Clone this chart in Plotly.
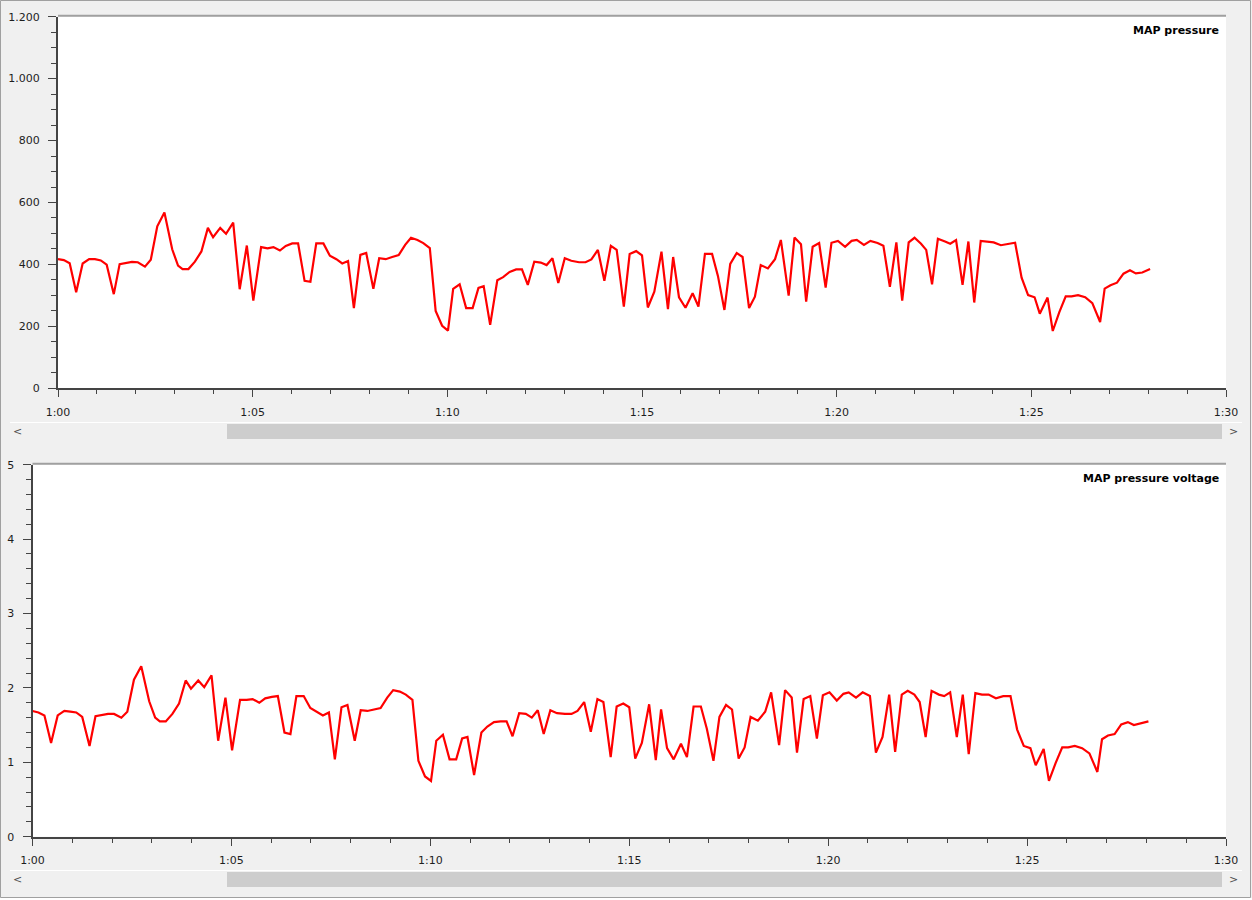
import plotly.graph_objects as go

# ---------------- data ----------------
# sample times, seconds after 1:00
t_sec = [0, 9, 18, 28, 38, 48, 57, 66, 75, 86,
         95, 105, 114, 123, 134, 143, 153, 164, 176, 185,
         192, 201, 211, 221, 231, 239, 250, 259, 270, 280,
         291, 301, 313, 323, 332, 342, 351, 361, 370, 380,
         389, 398, 409, 419, 429, 438, 447, 456, 466, 475,
         486, 495, 505, 515, 525, 535, 544, 554, 563, 573,
         582, 592, 601, 609, 619, 629, 639, 648, 656, 666,
         677, 686, 696, 706, 715, 724, 734, 744, 753, 762,
         771, 781, 791, 803, 813, 822, 832, 842, 852, 861,
         872, 881, 891, 900, 909, 919, 930, 940, 948, 957,
         967, 978, 987, 997, 1008, 1017, 1027, 1036, 1046, 1055,
         1065, 1074, 1083, 1094, 1105, 1114, 1126, 1135, 1145, 1153,
         1163, 1173, 1183, 1192, 1202, 1213, 1223, 1231, 1242, 1252,
         1263, 1272, 1282, 1292, 1301, 1311, 1320, 1330, 1338, 1347,
         1356, 1367, 1375, 1384, 1394, 1403, 1412, 1422, 1432, 1442,
         1453, 1464, 1475, 1485, 1495, 1505, 1513, 1525, 1533, 1543,
         1553, 1562, 1572, 1583, 1594, 1606, 1613, 1622, 1632, 1642,
         1652, 1661, 1671, 1683]

map_pressure = [417, 414, 404, 310, 403, 417, 417, 413, 399, 304,
                401, 404, 408, 407, 393, 415, 523, 568, 449, 396,
                385, 385, 409, 442, 518, 488, 518, 499, 535, 320,
                461, 283, 456, 452, 456, 445, 460, 468, 468, 347,
                344, 468, 468, 428, 417, 403, 411, 259, 431, 437,
                321, 420, 417, 424, 430, 463, 486, 479, 469, 453,
                250, 202, 186, 321, 336, 259, 259, 324, 330, 205,
                349, 359, 376, 384, 384, 334, 409, 406, 398, 420,
                340, 420, 412, 407, 407, 416, 447, 347, 460, 447,
                264, 434, 443, 429, 261, 312, 441, 256, 424, 294,
                260, 307, 264, 434, 434, 363, 253, 402, 437, 424,
                259, 296, 398, 387, 417, 479, 299, 487, 465, 280,
                457, 469, 325, 470, 476, 457, 476, 479, 463, 476,
                469, 460, 328, 471, 283, 471, 486, 467, 447, 336,
                483, 474, 467, 479, 334, 474, 277, 476, 474, 471,
                462, 467, 470, 357, 301, 294, 241, 293, 185, 245,
                297, 297, 301, 294, 275, 214, 322, 333, 341, 370,
                381, 371, 374, 385]

map_voltage = [1.69, 1.67, 1.63, 1.26, 1.63, 1.69, 1.68, 1.67, 1.61, 1.22,
               1.62, 1.64, 1.65, 1.65, 1.60, 1.68, 2.11, 2.29, 1.82, 1.60,
               1.55, 1.55, 1.65, 1.79, 2.10, 1.99, 2.10, 2.01, 2.17, 1.29,
               1.87, 1.16, 1.84, 1.84, 1.85, 1.80, 1.86, 1.88, 1.89, 1.40,
               1.38, 1.89, 1.89, 1.73, 1.68, 1.63, 1.67, 1.04, 1.74, 1.77,
               1.29, 1.70, 1.69, 1.71, 1.73, 1.87, 1.97, 1.95, 1.91, 1.84,
               1.02, 0.81, 0.75, 1.29, 1.37, 1.04, 1.04, 1.32, 1.34, 0.83,
               1.40, 1.48, 1.54, 1.55, 1.55, 1.35, 1.66, 1.65, 1.60, 1.70,
               1.38, 1.70, 1.66, 1.65, 1.65, 1.69, 1.81, 1.41, 1.85, 1.81,
               1.07, 1.75, 1.79, 1.74, 1.05, 1.26, 1.78, 1.03, 1.71, 1.19,
               1.04, 1.25, 1.07, 1.75, 1.75, 1.45, 1.02, 1.61, 1.77, 1.71,
               1.05, 1.20, 1.61, 1.56, 1.68, 1.94, 1.23, 1.97, 1.87, 1.13,
               1.85, 1.89, 1.32, 1.90, 1.94, 1.83, 1.92, 1.94, 1.87, 1.94,
               1.89, 1.13, 1.34, 1.91, 1.14, 1.91, 1.96, 1.91, 1.81, 1.34,
               1.96, 1.91, 1.89, 1.94, 1.34, 1.91, 1.11, 1.93, 1.91, 1.91,
               1.86, 1.89, 1.89, 1.44, 1.22, 1.19, 0.96, 1.18, 0.75, 0.99,
               1.20, 1.20, 1.22, 1.19, 1.12, 0.87, 1.31, 1.36, 1.38, 1.51,
               1.54, 1.50, 1.52, 1.55]

x_tick_vals = [3600, 3900, 4200, 4500, 4800, 5100, 5400]
x_tick_text = ["1:00", "1:05", "1:10", "1:15", "1:20", "1:25", "1:30"]
titles = ["MAP pressure", "MAP pressure voltage"]

x_vals = [3600 + s for s in t_sec]

# ---------------- layout helpers (screen pixel -> paper) ----------------
W, H = 1252, 900


def px(x):
    return x / W


def py(y):
    return 1 - y / H


AX = "#444444"
FONT = "DejaVu Sans"
tickfont = dict(family=FONT, size=11, color="#1e1e1e")

fig = go.Figure()
fig.add_trace(go.Scatter(x=x_vals, y=map_pressure, mode="lines",
                         line=dict(color="#ff0000", width=2.2),
                         xaxis="x", yaxis="y", showlegend=False))
fig.add_trace(go.Scatter(x=x_vals, y=map_voltage, mode="lines",
                         line=dict(color="#ff0000", width=2.2),
                         xaxis="x2", yaxis="y2", showlegend=False))


def xaxis_def(left, anchor):
    return dict(domain=[px(left), px(1226)], range=[3600, 5400], anchor=anchor,
                tickvals=x_tick_vals, ticktext=x_tick_text,
                ticks="outside", ticklen=7, tickwidth=1, tickcolor=AX,
                showline=True, linecolor=AX, linewidth=2,
                minor=dict(ticks="outside", ticklen=4, dtick=60, tickcolor=AX, tickwidth=1),
                showgrid=False, zeroline=False, tickfont=tickfont,
                ticklabelstandoff=5, fixedrange=True, automargin=False)


def yaxis_def(top, bottom, rng, dtick, mdtick, anchor, fmt):
    return dict(domain=[py(bottom), py(top)], range=rng, anchor=anchor,
                dtick=dtick, tickformat=fmt,
                ticks="outside", ticklen=8, tickwidth=1, tickcolor=AX,
                showline=True, linecolor=AX, linewidth=2,
                minor=dict(ticks="outside", ticklen=5, dtick=mdtick, tickcolor=AX, tickwidth=1),
                showgrid=False, zeroline=False, tickfont=tickfont,
                ticklabelstandoff=6, fixedrange=True, automargin=False)


shapes = []
annotations = []

# outer frame of the window and the strip below it
shapes.append(dict(type="rect", xref="paper", yref="paper",
                   x0=0, x1=1, y0=0, y1=py(898),
                   line=dict(width=0), fillcolor="#ffffff"))
shapes.append(dict(type="rect", xref="paper", yref="paper",
                   x0=px(0.5), x1=px(1250.5), y0=py(897.5), y1=py(0.5),
                   line=dict(color="#a0a0a0", width=1), fillcolor="rgba(0,0,0,0)"))

panels = [
    dict(left=58, top=16.7, bottom=388.3, scroll=423),
    dict(left=32.5, top=464.7, bottom=836.7, scroll=871),
]

for i, p in enumerate(panels):
    # top border of the plot area
    shapes.append(dict(type="line", xref="paper", yref="paper",
                       x0=px(p["left"]), x1=px(1226), y0=py(p["top"] - 1), y1=py(p["top"] - 1),
                       line=dict(color="#a0a0a0", width=2)))
    # scrollbar
    s = p["scroll"]
    shapes.append(dict(type="line", xref="paper", yref="paper",
                       x0=px(10), x1=px(1242), y0=py(s - 0.5), y1=py(s - 0.5),
                       line=dict(color="#ffffff", width=1)))
    shapes.append(dict(type="rect", xref="paper", yref="paper",
                       x0=px(227), x1=px(1222), y0=py(s + 16), y1=py(s + 1),
                       line=dict(width=0), fillcolor="#cdcdcd"))
    for ax_x, ch in ((17, "<"), (1233, ">")):
        annotations.append(dict(x=px(ax_x), y=py(s + 8), xref="paper", yref="paper",
                                text=ch, showarrow=False, xanchor="center", yanchor="middle",
                                font=dict(family=FONT, size=11, color="#505050")))
    # title
    annotations.append(dict(x=px(1221), y=py(p["top"] + 14), xref="paper", yref="paper",
                            text="<b>" + titles[i] + "</b>", showarrow=False,
                            xanchor="right", yanchor="middle",
                            font=dict(family=FONT, size=11, color="#000000")))

fig.update_layout(
    width=W, height=H, autosize=False,
    margin=dict(l=0, r=0, t=0, b=0, pad=0, autoexpand=False),
    paper_bgcolor="#f0f0f0", plot_bgcolor="#ffffff",
    separators=",.",
    showlegend=False,
    xaxis=xaxis_def(58, "y"),
    yaxis=yaxis_def(16.7, 388.3, [0, 1200], 200, 50, "x", ",d"),
    xaxis2=xaxis_def(32.5, "y2"),
    yaxis2=yaxis_def(464.7, 836.7, [0, 5], 1, 0.2, "x2", "d"),
    shapes=shapes,
    annotations=annotations,
)

# pin the figure to the window's top-left corner (the page has no doctype
# and keeps the browser's default body margin otherwise)
ps = ("document.body.style.margin='0';"
      "var g=document.querySelector('.plotly-graph-div');"
      "g.style.position='fixed';g.style.left='0px';g.style.top='0px';")
fig.write_html("out.html", config={"displayModeBar": False}, post_script=ps)
